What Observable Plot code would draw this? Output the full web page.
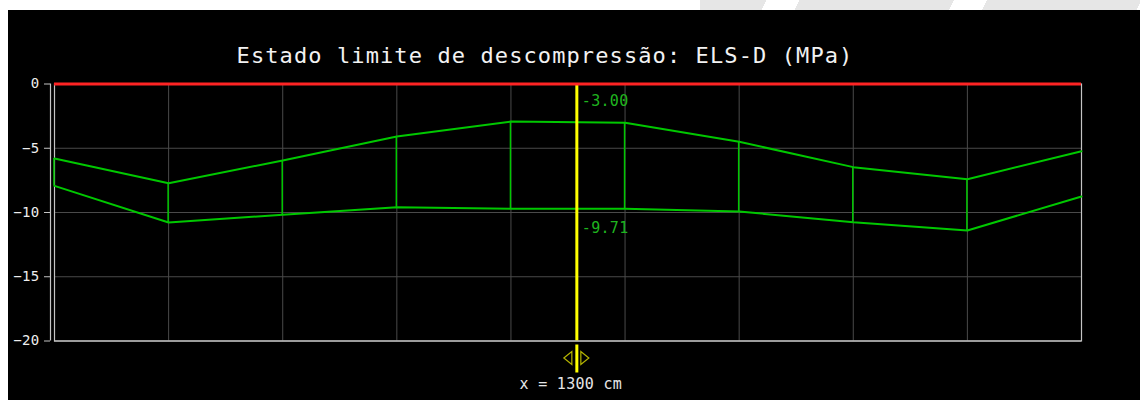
<!DOCTYPE html>
<html>
<head>
<meta charset="utf-8">
<script src="https://cdn.jsdelivr.net/npm/d3@7"></script>
<script src="https://cdn.jsdelivr.net/npm/@observablehq/plot@0.6"></script>
<style>
  html, body { margin: 0; padding: 0; background: #ffffff; width: 1140px; height: 400px; overflow: hidden; }
  #topband { position: absolute; left: 700px; top: 0; width: 440px; height: 10px;
    background: repeating-linear-gradient(115deg, #e6e6e6 0 60px, #ffffff 60px 90px, #e6e6e6 90px 170px); }
  #panel { position: absolute; left: 8px; top: 10px; width: 1132px; height: 390px; background: #000; overflow: hidden; }
  #title { position: absolute; left: 0; top: 34px; width: 1074px; text-align: center;
    font-family: "DejaVu Sans Mono", monospace; font-size: 22px; line-height: 24px; color: #f2f2f2; letter-spacing: 1.1px; }
  #chart { position: absolute; left: 0; top: 45px; }
  #chart svg { background: transparent; }
  g[aria-label="y-axis tick label"] text { letter-spacing: 0.3px; }
  g.lbl text { letter-spacing: 0.3px; }
</style>
</head>
<body>
<div id="topband"></div>
<div id="panel">
  <div id="title">Estado limite de descompressão: ELS-D (MPa)</div>
  <div id="chart"></div>
</div>
<script>
// Data
const stations = [0, 284, 568, 852, 1136, 1420, 1704, 1988, 2272, 2556];
const topStress = [-5.79, -7.72, -5.95, -4.09, -2.92, -3.01, -4.50, -6.47, -7.41, -5.23];
const bottomStress = [-7.93, -10.78, -10.18, -9.59, -9.71, -9.71, -9.92, -10.76, -11.40, -8.75];
const yTicks = [0, -5, -10, -15, -20];
const yGrid = [-5, -10, -15];
const limitStress = [0];
const cursorX = 1300;
const cursorTop = [-3.00];
const cursorBottom = [-9.71];

const rows = stations.map((s, i) => ({x: s, top: topStress[i], bottom: bottomStress[i]}));
const interior = stations.slice(1, -1);
const xMax = stations[stations.length - 1];

const green = "#00c800";
const arrowLeft = { draw(ctx) { ctx.moveTo(-4, 0); ctx.lineTo(4, -6.5); ctx.lineTo(4, 6.5); ctx.closePath(); } };
const arrowRight = { draw(ctx) { ctx.moveTo(4, 0); ctx.lineTo(-4, -6.5); ctx.lineTo(-4, 6.5); ctx.closePath(); } };

const chart = Plot.plot({
  width: 1132,
  height: 345,
  marginLeft: 46,
  marginRight: 59,
  marginTop: 28.5,
  marginBottom: 59.5,
  style: { background: "transparent", fontFamily: "DejaVu Sans Mono, monospace", color: "#eeeeee" },
  x: { domain: [0, xMax], axis: null },
  y: { domain: [-20, 0], axis: null },
  marks: [
    Plot.gridX(interior, { stroke: "#4a4a4a", strokeOpacity: 1, strokeWidth: 1 }),
    Plot.gridY(yGrid, { stroke: "#4a4a4a", strokeOpacity: 1, strokeWidth: 1 }),
    Plot.frame({ stroke: "#c4c4c4", strokeWidth: 1.2 }),
    Plot.ruleX(rows.slice(0, -1), { x: "x", y1: "top", y2: "bottom", dx: -0.5, stroke: green, strokeWidth: 1.5 }),
    Plot.line(rows, { x: "x", y: "top", stroke: green, strokeWidth: 2 }),
    Plot.line(rows, { x: "x", y: "bottom", stroke: green, strokeWidth: 2 }),
    Plot.ruleX([cursorX], { x: d => d, stroke: "#ffff00", strokeWidth: 3 }),
    Plot.ruleX([cursorX], { x: d => d, y1: () => -20, y2: () => -20, insetTop: 4, insetBottom: -32, stroke: "#ffff00", strokeWidth: 3 }),
    Plot.ruleY([-20], { stroke: "#c4c4c4", strokeWidth: 1.2 }),
    Plot.ruleX([0], { x: d => d, y1: () => 0, y2: () => -20, dx: -4, stroke: "#c4c4c4", strokeWidth: 1.2 }),
    Plot.axisY(yTicks, { tickSize: 6, tickPadding: 5, dx: -4, stroke: "#c4c4c4", fill: "#eeeeee", fontSize: 14, label: null }),
    Plot.ruleY(limitStress, { stroke: "#ff2424", strokeWidth: 3 }),
    Plot.dot([cursorX], { x: d => d, frameAnchor: "bottom", dx: -9, dy: 17, symbol: arrowLeft, r: 5, stroke: "#b4b400", fill: "none", strokeWidth: 1.2 }),
    Plot.dot([cursorX], { x: d => d, frameAnchor: "bottom", dx: 8, dy: 17, symbol: arrowRight, r: 5, stroke: "#b4b400", fill: "none", strokeWidth: 1.2 }),
    Plot.text(cursorTop, { x: () => cursorX, y: d => d, dy: -21, text: d => d.toFixed(2), textAnchor: "start", dx: 5, fill: "#1fb41f", fontSize: 15, className: "lbl" }),
    Plot.text(cursorBottom, { x: () => cursorX, y: d => d, dy: 19, text: d => d.toFixed(2), textAnchor: "start", dx: 5, fill: "#1fb41f", fontSize: 15, className: "lbl" }),
    Plot.text([cursorX], { x: d => d, frameAnchor: "bottom", dy: 48, dx: -6, text: d => `x = ${d} cm`, fill: "#e6e6e6", fontSize: 15, className: "lbl" })
  ]
});
document.getElementById("chart").appendChild(chart);
</script>
</body>
</html>
